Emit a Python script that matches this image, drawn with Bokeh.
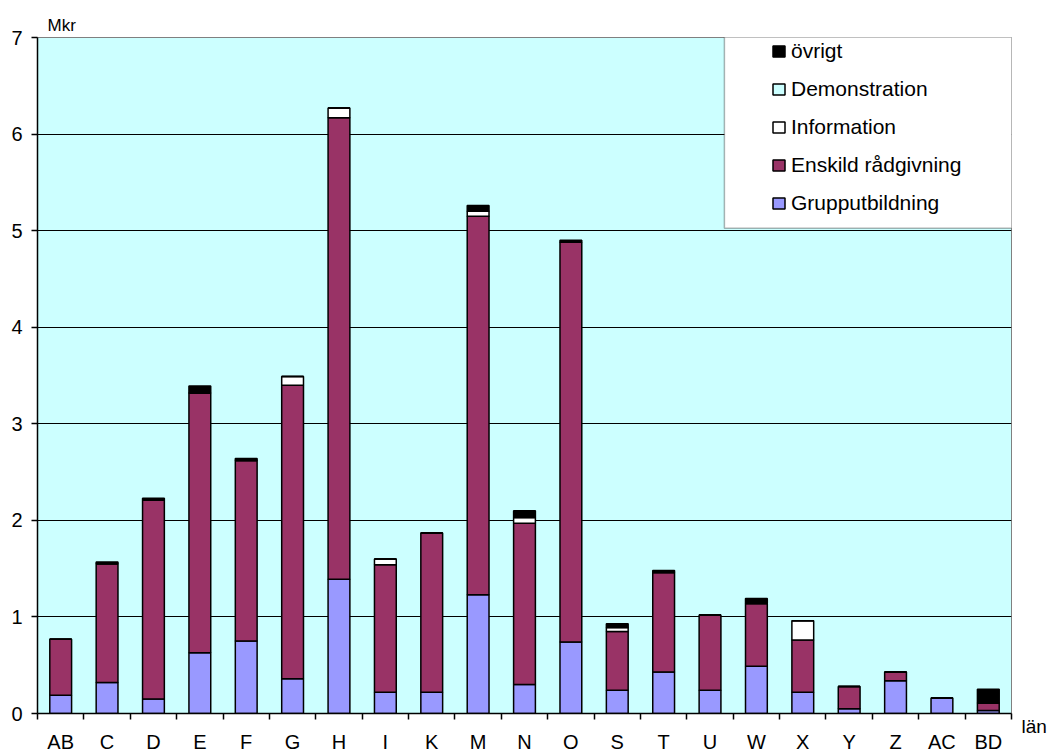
from bokeh.plotting import figure
from bokeh.models import (ColumnDataSource, FixedTicker, CustomJSTickFormatter, Legend,
                          LegendItem, BoxAnnotation, Range1d, LinearAxis, Title)
from bokeh.embed import file_html
from bokeh.resources import INLINE

# ---- data ----
categories = ["AB", "C", "D", "E", "F", "G", "H", "I", "K", "M", "N", "O",
              "S", "T", "U", "W", "X", "Y", "Z", "AC", "BD"]
grupputbildning = [0.19, 0.32, 0.15, 0.63, 0.75, 0.36, 1.39, 0.22, 0.22, 1.23, 0.30, 0.74,
                   0.24, 0.43, 0.24, 0.49, 0.22, 0.05, 0.34, 0.16, 0.03]
enskild = [0.58, 1.23, 2.06, 2.69, 1.87, 3.04, 4.78, 1.32, 1.65, 3.92, 1.67, 4.14,
           0.61, 1.03, 0.78, 0.65, 0.54, 0.23, 0.09, 0.00, 0.08]
information = [0, 0, 0, 0, 0, 0.09, 0.10, 0.06, 0, 0.05, 0.06, 0,
               0.04, 0, 0, 0, 0.20, 0, 0, 0, 0]
demonstration = [0] * 21
ovrigt = [0, 0.02, 0.02, 0.07, 0.02, 0, 0, 0, 0, 0.06, 0.07, 0.02,
          0.04, 0.02, 0, 0.05, 0, 0, 0, 0, 0.14]
series_names = ["Grupputbildning", "Enskild rådgivning", "Information", "Demonstration", "övrigt"]
series_colors = ["#9999FF", "#993366", "#FFFFFF", "#CCFFFF", "#000000"]
y_ticks = [0, 1, 2, 3, 4, 5, 6, 7]
y_unit = "Mkr"
x_unit = "län"

n = len(categories)
centers = [i + 0.5 for i in range(n)]
boundaries = list(range(n + 1))
keys = ["g", "e", "i", "d", "o"]
src = ColumnDataSource(dict(x=centers, g=grupputbildning, e=enskild, i=information,
                            d=demonstration, o=ovrigt))

FONT = "Liberation Sans"

p = figure(width=1051, height=756, output_backend="svg", toolbar_location=None,
           x_range=Range1d(0, n), y_range=Range1d(0, 7),
           min_border_left=37, min_border_right=40, min_border_top=37, min_border_bottom=43)
p.background_fill_color = "#CCFFFF"
p.border_fill_color = "white"
p.outline_line_color = "#808080"
p.outline_line_width = 1

# "Mkr" unit title above the frame
t = Title(text=y_unit, align="left", offset=10, standoff=6, text_font=FONT,
          text_font_size="17px", text_font_style="normal", text_color="black")
p.add_layout(t, "above")

rs = p.vbar_stack(keys, x="x", width=0.47, source=src, color=series_colors,
                  line_color="black", line_width=1.5)
for r, c in zip(rs, series_colors):
    r.glyph.fill_color = c
    r.glyph.line_color = "black"

# x axis
xa = p.xaxis[0]
xa.ticker = FixedTicker(ticks=centers, minor_ticks=boundaries)
xa.formatter = CustomJSTickFormatter(args=dict(cats=categories),
                                     code="const i = Math.floor(tick); return cats[i] || '';")
xa.major_tick_out = 0
xa.major_tick_in = 0
xa.minor_tick_out = 6
xa.minor_tick_in = 0
xa.minor_tick_line_color = "black"
xa.minor_tick_line_width = 1.5
xa.axis_line_color = "black"
xa.axis_line_width = 1.5
xa.major_label_text_font = FONT
xa.major_label_text_font_size = "20px"
xa.major_label_text_color = "black"
xa.major_label_standoff = 11

# y axis
ya = p.yaxis[0]
ya.ticker = FixedTicker(ticks=y_ticks)
ya.major_tick_out = 6
ya.major_tick_in = 0
ya.minor_tick_out = 0
ya.minor_tick_in = 0
ya.major_tick_line_color = "black"
ya.major_tick_line_width = 1.5
ya.axis_line_color = "black"
ya.axis_line_width = 1.5
ya.major_label_text_font = FONT
ya.major_label_text_font_size = "20px"
ya.major_label_text_color = "black"
ya.major_label_standoff = 9

# "län" unit label at the right end of the x axis (via an invisible right axis)
ra = LinearAxis(ticker=FixedTicker(ticks=[0]),
                major_label_overrides={0: "\n" + x_unit})
ra.axis_line_alpha = 0
ra.major_tick_line_alpha = 0
ra.minor_tick_line_alpha = 0
ra.major_tick_out = 0
ra.major_tick_in = 0
ra.minor_tick_out = 0
ra.minor_tick_in = 0
ra.major_label_standoff = 10
ra.major_label_text_font = FONT
ra.major_label_text_font_size = "19px"
ra.major_label_text_color = "black"
p.add_layout(ra, "right")

p.xgrid.visible = False
p.ygrid.ticker = FixedTicker(ticks=y_ticks)
p.ygrid.grid_line_color = "black"
p.ygrid.grid_line_width = 1

# legend box
p.add_layout(BoxAnnotation(left=14.81, right=21.02, top=7.04, bottom=5.025,
                           fill_color="white", fill_alpha=1, line_color="black", line_width=1.5))

items = [LegendItem(label=name, renderers=[r]) for name, r in zip(series_names, rs)][::-1]
legend = Legend(items=items, location=(734, 498), padding=0, spacing=14,
                label_height=20, glyph_height=14, glyph_width=15, label_standoff=5,
                label_text_font=FONT, label_text_font_size="21px", label_text_color="black",
                border_line_alpha=0, background_fill_alpha=0, margin=0)
p.add_layout(legend)

open("out.html", "w").write(file_html(p, INLINE))
